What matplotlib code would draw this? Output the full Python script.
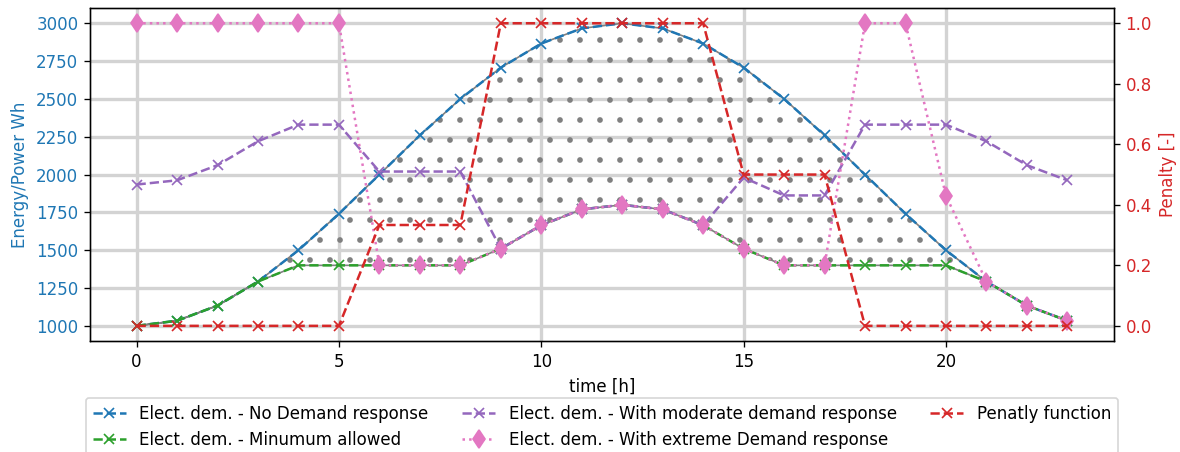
import matplotlib
matplotlib.use("Agg")
import matplotlib.pyplot as plt

hours = list(range(24))

# electricity demand, Wh
no_dr = [1000, 1034, 1134, 1293, 1500, 1741, 2000, 2259, 2500, 2707, 2866, 2966,
         3000, 2966, 2866, 2707, 2500, 2259, 2000, 1741, 1500, 1293, 1134, 1034]
min_allowed = [1000, 1034, 1134, 1293, 1400, 1400, 1400, 1400, 1400, 1510, 1665, 1770,
               1800, 1770, 1665, 1510, 1400, 1400, 1400, 1400, 1400, 1293, 1134, 1034]
moderate_dr = [1934, 1962, 2062, 2220, 2330, 2330, 2020, 2020, 2020, 1510, 1665, 1770,
               1800, 1770, 1665, 1980, 1862, 1862, 2330, 2330, 2330, 2220, 2062, 1962]
extreme_dr = [3000, 3000, 3000, 3000, 3000, 3000, 1400, 1400, 1400, 1510, 1665, 1770,
              1800, 1770, 1665, 1510, 1400, 1400, 3000, 3000, 1860, 1293, 1134, 1034]

# penalty, -
penalty = [0, 0, 0, 0, 0, 0, 1/3, 1/3, 1/3, 1, 1, 1,
           1, 1, 1, 0.5, 0.5, 0.5, 0, 0, 0, 0, 0, 0]

dpi = 120
fig = plt.figure(figsize=(1180 / dpi, 452 / dpi), dpi=dpi)
ax = fig.add_axes([0.0763, 0.2456, 0.8677, 0.7364])

ax.fill_between(hours, no_dr, min_allowed, facecolor="none", edgecolor="grey", hatch=".", linewidth=1)
l1, = ax.plot(hours, no_dr, "--x", color="tab:blue", label="Elect. dem. - No Demand response")
l2, = ax.plot(hours, min_allowed, "--x", color="tab:green", label="Elect. dem. - Minumum allowed")
l3, = ax.plot(hours, moderate_dr, "--x", color="tab:purple", label="Elect. dem. - With moderate demand response")
l4, = ax.plot(hours, extreme_dr, ":d", color="tab:pink", markersize=8, label="Elect. dem. - With extreme Demand response")

ax.grid(True, color="lightgrey", linewidth=2)
ax.set_axisbelow(True)
ax.set_xlabel("time [h]")
ax.set_ylabel("Energy/Power Wh", color="tab:blue")
ax.tick_params(axis="y", labelcolor="tab:blue")

ax2 = ax.twinx()
l5, = ax2.plot(hours, penalty, "--x", color="tab:red", label="Penatly function")
ax2.set_ylabel("Penalty [-]", color="tab:red")
ax2.tick_params(axis="y", labelcolor="tab:red")

lines = [l1, l2, l3, l4, l5]
ax.legend(lines, [l.get_label() for l in lines], loc="upper center",
          bbox_to_anchor=(0.5, -0.146), ncol=3)

fig.savefig("out.png", dpi=dpi)
